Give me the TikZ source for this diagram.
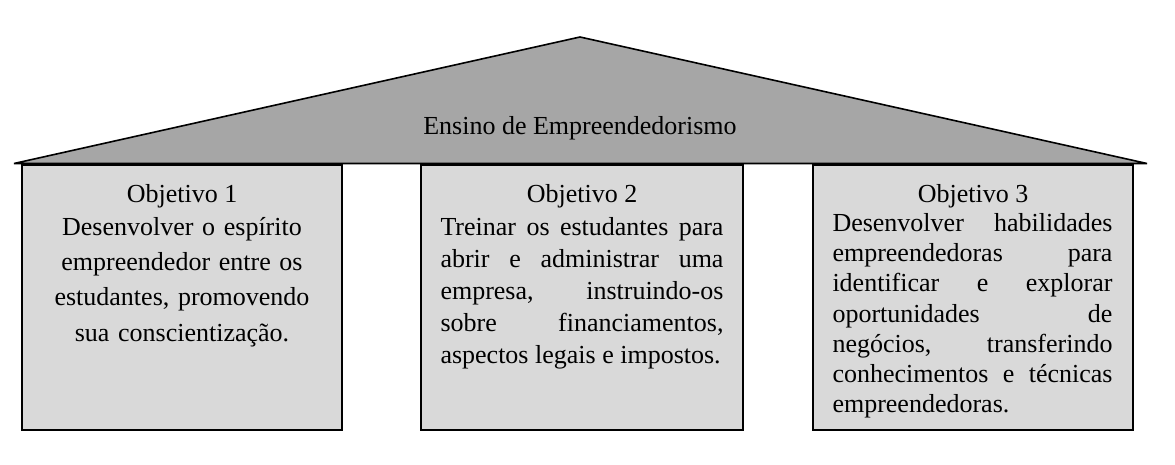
\documentclass[tikz,border=0pt]{standalone}
\usepackage{fontspec}
\setmainfont{Liberation Serif}
\definecolor{roofgray}{HTML}{A6A6A6}
\definecolor{boxgray}{HTML}{D9D9D9}
\begin{document}
\begin{tikzpicture}[x=1pt,y=-1pt,
  roof/.style={draw=black, fill=roofgray, line width=1.6pt, line join=bevel},
  objbox/.style={draw=black, fill=boxgray, line width=2pt, rectangle, minimum width=#1, minimum height=265pt, inner sep=0pt},
  head/.style={font=\fontsize{26}{30}\selectfont, inner sep=0pt, anchor=base},
  bodytext/.style={font=\fontsize{26}{#1}\selectfont, inner sep=0pt, anchor=base}
]
\path[use as bounding box, fill=white] (0,0) rectangle (1175,465);
% roof
\draw[roof] (14,163.5) -- (580,37) -- (1147,163.5) -- cycle;
\node[head] (title) at (580,135) {Ensino de Empreendedorismo};
% boxes
\node[objbox=320pt] (b1) at (182,297.5) {};
\node[objbox=322pt] (b2) at (582,297.5) {};
\node[objbox=320pt] (b3) at (973,297.5) {};
% headings
\node[head] (h1) at (182,203) {Objetivo 1};
\node[head] (h2) at (582,203) {Objetivo 2};
\node[head] (h3) at (973,203) {Objetivo 3};
% texts
\node[bodytext=35, text width=300pt, align=center] (t1) at (182,236)
  {Desenvolver o espírito\\ empreendedor entre os\\ estudantes, promovendo\\ sua conscientização.};
\node[bodytext=31.75, text width=283pt, align=justify] (t2) at (582,236)
  {Treinar os estudantes para\linebreak abrir e administrar uma\linebreak empresa, instruindo-os\linebreak sobre financiamentos,\linebreak aspectos legais e impostos.};
\node[bodytext=30, text width=280pt, align=justify] (t3) at (972.5,232)
  {Desenvolver habilidades\linebreak empreendedoras para\linebreak identificar e explorar\linebreak oportunidades de\linebreak negócios, transferindo\linebreak conhecimentos e técnicas\linebreak empreendedoras.};
\end{tikzpicture}
\end{document}
